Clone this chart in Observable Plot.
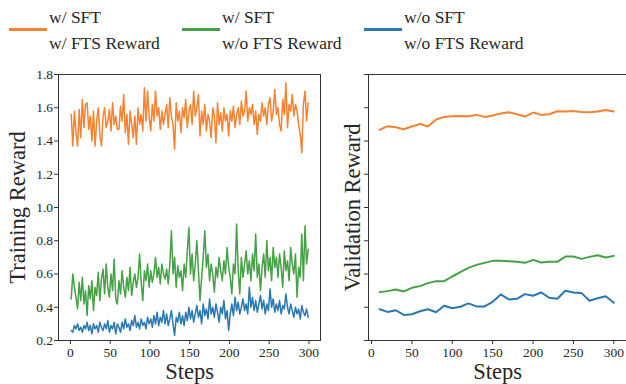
<!DOCTYPE html>
<html>
<head>
<meta charset="utf-8">
<script src="https://cdn.jsdelivr.net/npm/d3@7"></script>
<script src="https://cdn.jsdelivr.net/npm/@observablehq/plot@0.6"></script>
<style>
  html, body { margin: 0; padding: 0; background: #fff; }
  #root { position: relative; width: 626px; height: 384px; overflow: hidden; }
  #legend { position: absolute; left: 0; top: 0; }
  #left { position: absolute; left: 0; top: 58px; }
  #right { position: absolute; left: 322px; top: 58px; }
</style>
</head>
<body>
<div id="root">
  <div id="legend"></div>
  <div id="left"></div>
  <div id="right"></div>
</div>
<script>
// ---------- data ----------
const seriesNames = ["w/ SFT|w/ FTS Reward", "w/ SFT|w/o FTS Reward", "w/o SFT|w/o FTS Reward"];
const seriesColors = ["#f7822f", "#45a146", "#2a78b0"];

const xTicks = [0, 50, 100, 150, 200, 250, 300];
const yTicks = [0.2, 0.4, 0.6, 0.8, 1.0, 1.2, 1.4, 1.6, 1.8];

// training steps (every 2nd logged step: 1, 3, ..., 299)
const trainSteps = d3.range(1, 300, 2);
const trainOrange = [
  1.56,1.37,1.58,1.45,1.37,1.59,1.42,1.65,1.48,1.62,
  1.63,1.47,1.55,1.40,1.58,1.37,1.52,1.60,1.44,1.37,
  1.55,1.60,1.48,1.52,1.59,1.46,1.63,1.50,1.55,1.47,
  1.47,1.61,1.52,1.68,1.45,1.56,1.38,1.58,1.50,1.42,
  1.55,1.38,1.60,1.50,1.56,1.46,1.72,1.52,1.70,1.55,
  1.46,1.62,1.52,1.70,1.55,1.60,1.47,1.58,1.50,1.56,
  1.62,1.48,1.66,1.55,1.50,1.35,1.63,1.52,1.58,1.45,
  1.60,1.54,1.65,1.48,1.58,1.62,1.50,1.70,1.55,1.60,
  1.68,1.43,1.58,1.50,1.62,1.46,1.56,1.52,1.42,1.60,
  1.55,1.39,1.63,1.50,1.57,1.46,1.60,1.52,1.56,1.43,
  1.58,1.52,1.61,1.48,1.56,1.60,1.50,1.64,1.55,1.58,
  1.70,1.52,1.60,1.56,1.62,1.50,1.58,1.44,1.56,1.52,
  1.63,1.55,1.60,1.50,1.62,1.66,1.52,1.58,1.71,1.56,
  1.60,1.50,1.46,1.65,1.56,1.75,1.48,1.62,1.58,1.68,
  1.55,1.62,1.58,1.50,1.44,1.33,1.62,1.70,1.52,1.63
];
const trainGreen = [
  0.45,0.60,0.52,0.46,0.39,0.55,0.44,0.58,0.42,0.50,
  0.35,0.53,0.45,0.56,0.38,0.52,0.47,0.61,0.44,0.57,
  0.63,0.48,0.66,0.52,0.46,0.60,0.50,0.69,0.45,0.42,
  0.56,0.48,0.62,0.52,0.46,0.58,0.50,0.64,0.47,0.55,
  0.60,0.52,0.58,0.72,0.55,0.44,0.62,0.56,0.66,0.52,
  0.62,0.55,0.60,0.70,0.58,0.64,0.54,0.66,0.60,0.57,
  0.63,0.54,0.66,0.86,0.60,0.70,0.52,0.65,0.58,0.62,
  0.50,0.66,0.58,0.74,0.88,0.60,0.72,0.56,0.66,0.80,
  0.62,0.44,0.58,0.70,0.86,0.64,0.72,0.56,0.66,0.60,
  0.49,0.64,0.58,0.70,0.62,0.56,0.68,0.60,0.76,0.64,
  0.58,0.48,0.66,0.60,0.90,0.62,0.48,0.70,0.58,0.66,
  0.74,0.60,0.68,0.56,0.72,0.62,0.84,0.58,0.66,0.50,
  0.64,0.72,0.58,0.80,0.62,0.70,0.56,0.76,0.64,0.70,
  0.58,0.72,0.64,0.52,0.74,0.62,0.68,0.56,0.76,0.66,
  0.60,0.72,0.46,0.64,0.58,0.84,0.56,0.89,0.66,0.75
];
const trainBlue = [
  0.26,0.25,0.29,0.27,0.30,0.26,0.28,0.25,0.29,0.27,
  0.31,0.26,0.29,0.24,0.30,0.27,0.29,0.25,0.31,0.28,
  0.26,0.30,0.27,0.32,0.25,0.29,0.27,0.31,0.24,0.30,
  0.28,0.25,0.31,0.27,0.33,0.28,0.30,0.26,0.32,0.29,
  0.35,0.28,0.31,0.27,0.33,0.29,0.31,0.27,0.34,0.30,
  0.33,0.28,0.35,0.30,0.37,0.29,0.34,0.31,0.38,0.30,
  0.36,0.29,0.33,0.38,0.30,0.23,0.34,0.31,0.37,0.30,
  0.35,0.29,0.37,0.32,0.40,0.33,0.38,0.31,0.36,0.41,
  0.34,0.38,0.30,0.42,0.35,0.39,0.33,0.45,0.36,0.40,
  0.34,0.42,0.37,0.31,0.40,0.36,0.44,0.33,0.38,0.26,
  0.36,0.42,0.35,0.46,0.38,0.43,0.36,0.40,0.45,0.38,
  0.42,0.36,0.52,0.40,0.46,0.38,0.44,0.37,0.42,0.47,
  0.39,0.44,0.36,0.42,0.38,0.51,0.40,0.45,0.37,0.42,
  0.38,0.44,0.36,0.41,0.39,0.48,0.40,0.36,0.42,0.38,
  0.34,0.40,0.36,0.39,0.33,0.41,0.37,0.35,0.39,0.34
];

// validation (every 10 steps)
const valSteps = d3.range(10, 301, 10);
const valOrange = [
  1.467,1.489,1.483,1.471,1.487,1.503,1.487,1.529,1.545,1.549,
  1.551,1.549,1.557,1.545,1.553,1.565,1.573,1.561,1.547,1.571,
  1.557,1.561,1.579,1.577,1.581,1.575,1.573,1.577,1.587,1.577
];
const valGreen = [
  0.491,0.497,0.507,0.495,0.517,0.527,0.545,0.557,0.557,0.585,
  0.611,0.637,0.655,0.667,0.679,0.679,0.677,0.673,0.667,0.685,
  0.669,0.673,0.673,0.705,0.705,0.691,0.703,0.713,0.699,0.709
];
const valBlue = [
  0.388,0.372,0.382,0.354,0.358,0.376,0.388,0.370,0.409,0.394,
  0.403,0.423,0.405,0.405,0.433,0.477,0.447,0.451,0.479,0.469,
  0.489,0.457,0.451,0.499,0.489,0.485,0.439,0.454,0.466,0.427
];

// ---------- tables ----------
const trainSeries = [trainOrange, trainGreen, trainBlue];
const valSeries = [valOrange, valGreen, valBlue];
const trainRows = trainSeries.flatMap((vals, k) => vals.map((v, i) => ({step: trainSteps[i], value: v, series: seriesNames[k]})));
const valRows = valSeries.flatMap((vals, k) => vals.map((v, i) => ({step: valSteps[i], value: v, series: seriesNames[k]})));

const FONT = "Liberation Serif, Times New Roman, serif";
const INK = "#262626";

// ---------- legend (svg) ----------
const legendLeft = [9, 182, 364];
const lsvg = d3.create("svg").attr("width", 626).attr("height", 58)
  .attr("font-family", FONT).attr("font-size", 17.5).attr("fill", INK);
seriesNames.forEach((name, k) => {
  lsvg.append("line")
    .attr("x1", legendLeft[k]).attr("x2", legendLeft[k] + 38)
    .attr("y1", 29.5).attr("y2", 29.5)
    .attr("stroke", seriesColors[k]).attr("stroke-width", 3);
  name.split("|").forEach((part, j) => {
    lsvg.append("text")
      .attr("x", legendLeft[k] + 40)
      .attr("y", 23 + 26 * j)
      .text(part);
  });
});
document.getElementById("legend").appendChild(lsvg.node());

// ---------- shared ----------
const common = {
  height: 326,
  marginTop: 16,
  marginBottom: 44,
  style: {fontFamily: FONT, fontSize: "13.5px", color: INK, background: "transparent", overflow: "visible"},
  y: {domain: [0.2, 1.8]},
  color: {domain: seriesNames, range: seriesColors}
};
const axisStyle = {fontSize: 13.5, fontFamily: FONT, label: null, stroke: "#333", fill: INK};
const titleStyle = {text: d => d, fontSize: 22.5, fontFamily: FONT, fill: INK, textAnchor: "middle", lineAnchor: "middle"};

// ---------- left panel ----------
const left = Plot.plot({
  ...common,
  width: 322,
  marginLeft: 58,
  marginRight: 2,
  x: {domain: [-15, 314.5]},
  marks: [
    Plot.line(trainRows, {x: "step", y: "value", z: "series", stroke: "series", strokeWidth: 1.5, strokeLinejoin: "round"}),
    Plot.frame({stroke: "#333", strokeWidth: 1}),
    Plot.axisX({...axisStyle, ticks: xTicks, tickSize: 4, tickPadding: 3}),
    Plot.axisY({...axisStyle, ticks: yTicks, tickFormat: d3.format(".1f"), tickSize: 4, tickPadding: 1.5}),
    Plot.text(["Training Reward"], {...titleStyle, frameAnchor: "left", dx: -41, rotate: -90}),
    Plot.text(["Steps"], {...titleStyle, frameAnchor: "bottom", dy: 31})
  ]
});
document.getElementById("left").appendChild(left);

// ---------- right panel ----------
const right = Plot.plot({
  ...common,
  width: 304,
  marginLeft: 46,
  marginRight: 0,
  x: {domain: [-3.7, 315.7]},
  marks: [
    Plot.line(valRows, {x: "step", y: "value", z: "series", stroke: "series", strokeWidth: 2, strokeLinejoin: "round"}),
    Plot.ruleY([0.2, 1.8], {stroke: "#333", strokeWidth: 1}),
    Plot.ruleX([-3.7], {stroke: "#333", strokeWidth: 1}),
    Plot.axisX({...axisStyle, ticks: xTicks, tickSize: 4, tickPadding: 3}),
    Plot.axisY({...axisStyle, ticks: yTicks, tickFormat: () => "", tickSize: 4}),
    Plot.text(["Validation Reward"], {...titleStyle, frameAnchor: "left", dx: -16, rotate: -90}),
    Plot.text(["Steps"], {...titleStyle, frameAnchor: "bottom", dy: 31})
  ]
});
document.getElementById("right").appendChild(right);
</script>
</body>
</html>
